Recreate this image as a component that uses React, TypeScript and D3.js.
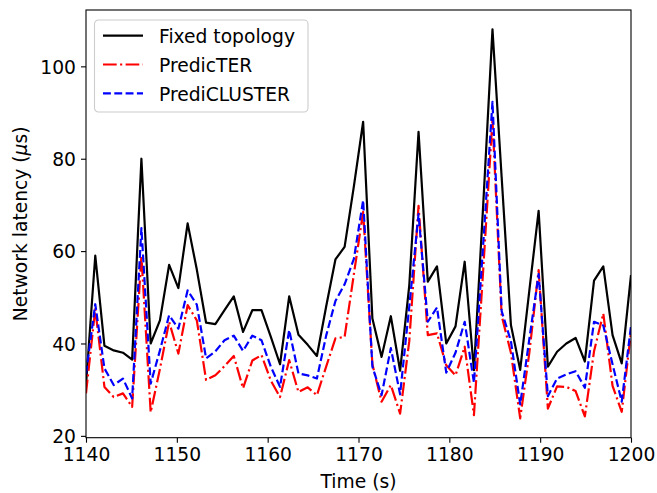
import * as d3 from 'd3';
import { useEffect, useRef } from 'react';

// Sample times (s), 60 samples spanning 1140..1200
const times = [
  1140.0, 1141.02, 1142.03, 1143.05, 1144.07, 1145.08, 1146.1, 1147.12, 1148.14, 1149.15,
  1150.17, 1151.19, 1152.2, 1153.22, 1154.24, 1155.25, 1156.27, 1157.29, 1158.31, 1159.32,
  1160.34, 1161.36, 1162.37, 1163.39, 1164.41, 1165.42, 1166.44, 1167.46, 1168.47, 1169.49,
  1170.51, 1171.53, 1172.54, 1173.56, 1174.58, 1175.59, 1176.61, 1177.63, 1178.64, 1179.66,
  1180.68, 1181.69, 1182.71, 1183.73, 1184.75, 1185.76, 1186.78, 1187.8, 1188.81, 1189.83,
  1190.85, 1191.86, 1192.88, 1193.9, 1194.92, 1195.93, 1196.95, 1197.97, 1198.98, 1200.0,
];

const fixedTopology = [
  31, 59, 39.5, 38.5, 38, 36.5, 80, 40, 45, 57,
  52, 66, 56, 44.5, 44.2, 47.2, 50.2, 42.5, 47.2, 47.2,
  41.5, 35.5, 50.2, 41.9, 39.7, 37.3, 48, 58.2, 60.9, 74,
  88, 45.4, 37.1, 45.9, 34.1, 52.6, 85.8, 53.4, 56.7, 40,
  43.7, 57.7, 34.2, 70, 108, 76, 44, 34.3, 51.5, 68.7,
  35, 38.2, 40, 41.2, 36.1, 53.6, 56.7, 41.8, 35.7, 54.8,
];

const predicTER = [
  29.2, 47.5, 30.6, 28.4, 29.2, 26.3, 59, 25.1, 34.5, 44.7,
  37.8, 48.3, 45, 32.1, 33.1, 35.1, 37.3, 30.3, 36.3, 37.5,
  32, 28.4, 36.4, 29.5, 30.5, 28.8, 35, 41.1, 41.4, 55,
  68.5, 35.5, 27.4, 31, 24.8, 40.5, 69.8, 41.8, 42.2, 35.3,
  33.1, 39.3, 24.5, 56, 88.5, 46, 38, 23.8, 38, 55.9,
  25.9, 30.7, 30.6, 29.7, 24.2, 38.3, 46.5, 30.8, 25.2, 42.5,
];

const prediCLUSTER = [
  33.5, 48.5, 34.6, 31, 32.4, 28.1, 65, 31.3, 38.5, 46.1,
  43.2, 51.5, 48.4, 36.8, 38.3, 40.7, 41.7, 38.4, 41.7, 40.7,
  35, 30.6, 42.9, 33.5, 33.1, 32.4, 41.7, 49.2, 52.8, 58.3,
  71, 35, 28.8, 39, 29, 48, 68, 44.7, 47.8, 33.7,
  38, 44.7, 31.5, 61.5, 92.3, 47, 40.5, 26.8, 41, 55,
  28.6, 32.4, 33.3, 34, 30.4, 44.7, 43.9, 35.5, 27.4, 43.8,
];

const xTicks = [1140, 1150, 1160, 1170, 1180, 1190, 1200];
const yTicks = [20, 40, 60, 80, 100];

const series = [
  { name: 'Fixed topology', values: fixedTopology, color: '#000000', dash: null },
  { name: 'PredicTER', values: predicTER, color: '#ff0000', dash: '13.7,3.4,2.1,3.4' },
  { name: 'PrediCLUSTER', values: prediCLUSTER, color: '#0000ff', dash: '7.9,3.4' },
];

const WIDTH = 657;
const HEIGHT = 493;
const FONT = '"DejaVu Sans", sans-serif';
const FS = 18.7;

export default function App() {
  const svgRef = useRef<SVGSVGElement>(null);

  useEffect(() => {
    if (!svgRef.current) return;
    const svg = d3.select(svgRef.current);
    svg.selectAll('*').remove();

    const margin = { top: 10, right: 26, bottom: 55.3, left: 86 };
    const innerWidth = WIDTH - margin.left - margin.right;
    const innerHeight = HEIGHT - margin.top - margin.bottom;

    const x = d3.scaleLinear().domain([1140, 1200]).range([0, innerWidth]);
    const y = d3.scaleLinear().domain([19.6, 112.2]).range([innerHeight, 0]);

    svg
      .append('defs')
      .append('clipPath')
      .attr('id', 'plot-clip')
      .append('rect')
      .attr('width', innerWidth)
      .attr('height', innerHeight);

    const g = svg.append('g').attr('transform', `translate(${margin.left}, ${margin.top})`);

    // Lines
    const plot = g.append('g').attr('clip-path', 'url(#plot-clip)');
    series.forEach((s) => {
      const line = d3
        .line<number>()
        .x((_, i) => x(times[i]))
        .y((d) => y(d));
      plot
        .append('path')
        .datum(s.values)
        .attr('fill', 'none')
        .attr('stroke', s.color)
        .attr('stroke-width', 2.2)
        .attr('stroke-linejoin', 'round')
        .attr('stroke-dasharray', s.dash)
        .attr('d', line);
    });

    // X axis
    g.append('g')
      .attr('transform', `translate(0, ${innerHeight})`)
      .call(d3.axisBottom(x).tickValues(xTicks).tickSize(5).tickPadding(5).tickFormat(d3.format('d')))
      .call((a) => a.select('.domain').remove())
      .call((a) => a.selectAll('.tick line').attr('stroke', '#000').attr('stroke-width', 1.1))
      .call((a) =>
        a
          .selectAll('.tick text')
          .attr('fill', '#000')
          .style('font-family', FONT)
          .style('font-size', `${FS}px`)
      );

    // Y axis
    g.append('g')
      .call(d3.axisLeft(y).tickValues(yTicks).tickSize(5).tickPadding(5))
      .call((a) => a.select('.domain').remove())
      .call((a) => a.selectAll('.tick line').attr('stroke', '#000').attr('stroke-width', 1.1))
      .call((a) =>
        a
          .selectAll('.tick text')
          .attr('fill', '#000')
          .attr('dy', '0.36em')
          .style('font-family', FONT)
          .style('font-size', `${FS}px`)
      );

    // Frame
    g.append('rect')
      .attr('width', innerWidth)
      .attr('height', innerHeight)
      .attr('fill', 'none')
      .attr('stroke', '#000')
      .attr('stroke-width', 1.1);

    // Axis labels
    g.append('text')
      .attr('x', innerWidth / 2)
      .attr('y', innerHeight + 50.5)
      .attr('text-anchor', 'middle')
      .style('font-family', FONT)
      .style('font-size', `${FS}px`)
      .text('Time (s)');

    const yl = g
      .append('text')
      .attr('transform', `translate(${27 - margin.left}, ${innerHeight / 2}) rotate(-90)`)
      .attr('text-anchor', 'middle')
      .style('font-family', FONT)
      .style('font-size', `${FS}px`);
    yl.append('tspan').text('Network latency (');
    yl.append('tspan').style('font-style', 'italic').text('μ');
    yl.append('tspan').text('s)');

    // Legend
    const lg = g.append('g').attr('transform', `translate(${94.5 - margin.left}, ${20 - margin.top})`);
    lg.append('rect')
      .attr('width', 213.5)
      .attr('height', 92)
      .attr('rx', 4)
      .attr('fill', 'rgba(255,255,255,0.8)')
      .attr('stroke', '#cccccc')
      .attr('stroke-width', 1.1);
    series.forEach((s, i) => {
      const cy = 15.7 + i * 28.8;
      lg.append('line')
        .attr('x1', 8.5)
        .attr('x2', 48.5)
        .attr('y1', cy)
        .attr('y2', cy)
        .attr('stroke', s.color)
        .attr('stroke-width', 2.2)
        .attr('stroke-dasharray', s.dash);
      lg.append('text')
        .attr('x', 64.5)
        .attr('y', cy + 7.3)
        .style('font-family', FONT)
        .style('font-size', `${FS}px`)
        .text(s.name);
    });
  }, []);

  return (
    <svg
      ref={svgRef}
      width={WIDTH}
      height={HEIGHT}
      style={{ position: 'absolute', left: 0, top: 0, background: '#fff' }}
    />
  );
}
